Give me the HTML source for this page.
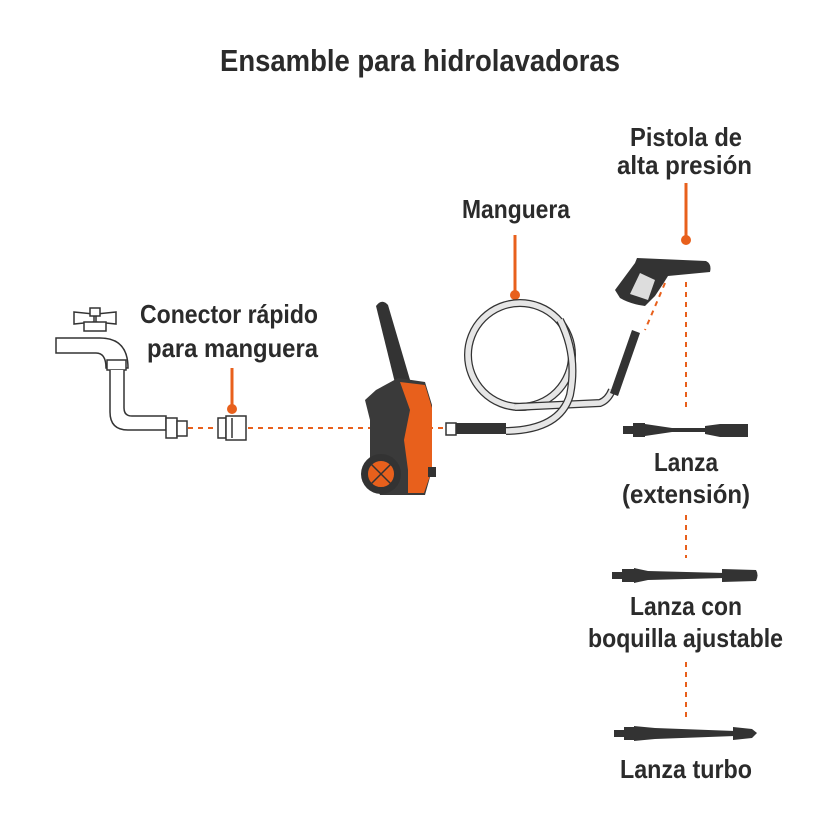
<!DOCTYPE html>
<html><head><meta charset="utf-8"><style>
html,body{margin:0;padding:0;background:#fff}
svg{display:block}
text{font-family:"Liberation Sans Narrow","Liberation Sans",sans-serif;font-weight:bold;fill:#2b2b2b}
</style></head><body>
<svg width="840" height="840" viewBox="0 0 840 840" xmlns="http://www.w3.org/2000/svg">
<rect width="840" height="840" fill="#fff"/>
<g font-size="31">
<text x="220" y="71" textLength="400" lengthAdjust="spacingAndGlyphs">Ensamble para hidrolavadoras</text>
</g>
<g font-size="26">
<text x="630" y="146" textLength="112" lengthAdjust="spacingAndGlyphs">Pistola de</text>
<text x="617" y="174" textLength="135" lengthAdjust="spacingAndGlyphs">alta presión</text>
<text x="462" y="218" textLength="108" lengthAdjust="spacingAndGlyphs">Manguera</text>
<text x="140" y="323" textLength="178" lengthAdjust="spacingAndGlyphs">Conector rápido</text>
<text x="147" y="357" textLength="171" lengthAdjust="spacingAndGlyphs">para manguera</text>
<text x="654" y="471" textLength="64" lengthAdjust="spacingAndGlyphs">Lanza</text>
<text x="622" y="503" textLength="128" lengthAdjust="spacingAndGlyphs">(extensión)</text>
<text x="630" y="615" textLength="112" lengthAdjust="spacingAndGlyphs">Lanza con</text>
<text x="588" y="647" textLength="195" lengthAdjust="spacingAndGlyphs">boquilla ajustable</text>
<text x="620" y="778" textLength="132" lengthAdjust="spacingAndGlyphs">Lanza turbo</text>
</g>
<g stroke="#e8601c" stroke-width="3" fill="#e8601c">
<line x1="686" y1="183" x2="686" y2="238"/><circle cx="686" cy="240" r="5" stroke="none"/>
<line x1="515" y1="235" x2="515" y2="293"/><circle cx="515" cy="295" r="5" stroke="none"/>
<line x1="232" y1="368" x2="232" y2="406"/><circle cx="232" cy="409" r="5" stroke="none"/>
</g>
<g stroke="#e8601c" stroke-width="2" stroke-dasharray="5,5" fill="none">
<line x1="188" y1="428" x2="222" y2="428"/>
<line x1="248" y1="428" x2="380" y2="428"/>
<line x1="428" y1="428" x2="445" y2="428"/>
<line x1="686" y1="282" x2="686" y2="408"/>
<line x1="665" y1="283" x2="645" y2="330"/>
<line x1="686" y1="515" x2="686" y2="558"/>
<line x1="686" y1="662" x2="686" y2="718"/>
</g>
<g fill="#fff" stroke="#333" stroke-width="1.5">
<path d="M74 312 L94 314 L94 322 L74 324 Z M116 312 L96 314 L96 322 L116 324 Z"/>
<rect x="90" y="308" width="10" height="8"/>
<rect x="84" y="322" width="22" height="9"/>
<path d="M56 338 L100 338 Q128 338 128 368 L124 368 L106 368 Q106 353 96 353 L56 353 Z"/>
<rect x="107" y="360" width="19" height="10"/>
<path d="M110 370 L110 412 Q110 430 128 430 L166 430 L166 416 L132 416 Q124 416 124 408 L124 370"/>
<rect x="166" y="418" width="11" height="20"/>
<rect x="177" y="421" width="10" height="15"/>
<rect x="218" y="418" width="8" height="20"/>
<rect x="226" y="416" width="20" height="24"/>
<line x1="232" y1="418" x2="232" y2="438"/>
</g>
<g>
<path d="M376 306 Q382 298 388 305 L413 390 L398 395 Z" fill="#333"/>
<path d="M376 390 L398 378 L425 382 L432 405 L432 470 L425 495 L380 495 L370 470 L370 420 L365 400 Z" fill="#3a3a3a"/>
<path d="M400 382 L425 385 L432 408 L432 470 L424 493 L408 493 L408 470 L404 440 L410 410 Z" fill="#e8601c"/>
<rect x="428" y="467" width="8" height="10" fill="#333"/>
<circle cx="381" cy="474" r="20" fill="#333"/>
<circle cx="381" cy="474" r="14" fill="#e8601c" stroke="#333" stroke-width="2"/>
<path d="M371 464 L391 484 M391 464 L371 484" stroke="#333" stroke-width="1.5"/>
</g>
<g fill="none">
<circle cx="520" cy="355" r="52" stroke="#333" stroke-width="8"/>
<circle cx="520" cy="355" r="52" stroke="#e6e6e6" stroke-width="5.5"/>
<path d="M515 407 L600 403 Q608 400 612 390" stroke="#333" stroke-width="8"/>
<path d="M515 407 L600 403 Q608 400 612 390" stroke="#e6e6e6" stroke-width="5.5"/>
<path d="M506 431 Q560 430 570 395 Q578 355 560 320" stroke="#333" stroke-width="8"/>
<path d="M506 431 Q560 430 570 395 Q578 355 560 320" stroke="#e6e6e6" stroke-width="5.5"/>
</g>
<rect x="446" y="423" width="10" height="12" fill="#fff" stroke="#333" stroke-width="1.5"/>
<rect x="456" y="423" width="50" height="11" fill="#333"/>
<path d="M610 393 L632 330 L640 333 L618 396 Z" fill="#333"/>
<path d="M637 258 L706 261 Q712 264 710 272 L668 276 L663 284 L655 296 L645 306 Q630 304 620 298 L615 290 L635 263 Z" fill="#333"/>
<path d="M640 273 L655 280 L648 300 L630 294 Z" fill="#ddd"/>
<g fill="#333">
<rect x="623" y="426" width="10" height="8"/><rect x="633" y="423" width="12" height="14"/>
<path d="M645 424 L672 428 L705 428 L705 432 L672 432 L645 436 Z"/>
<path d="M705 426 L720 424 L748 424 L748 437 L720 437 L705 434 Z"/>
<rect x="612" y="572" width="10" height="7"/><rect x="622" y="569" width="12" height="13"/>
<path d="M634 568 L648 571 L725 573 L725 578 L648 580 L634 583 Z"/>
<path d="M722 569 L756 570 Q759 575 756 581 L722 582 Z"/>
<rect x="614" y="730" width="10" height="7"/><rect x="624" y="727" width="10" height="13"/>
<path d="M634 726 L655 728 L735 731 L735 736 L655 739 L634 741 Z"/>
<path d="M733 727 L752 729 L757 733 L752 738 L733 740 Z"/>
</g>
</svg>
</body></html>
